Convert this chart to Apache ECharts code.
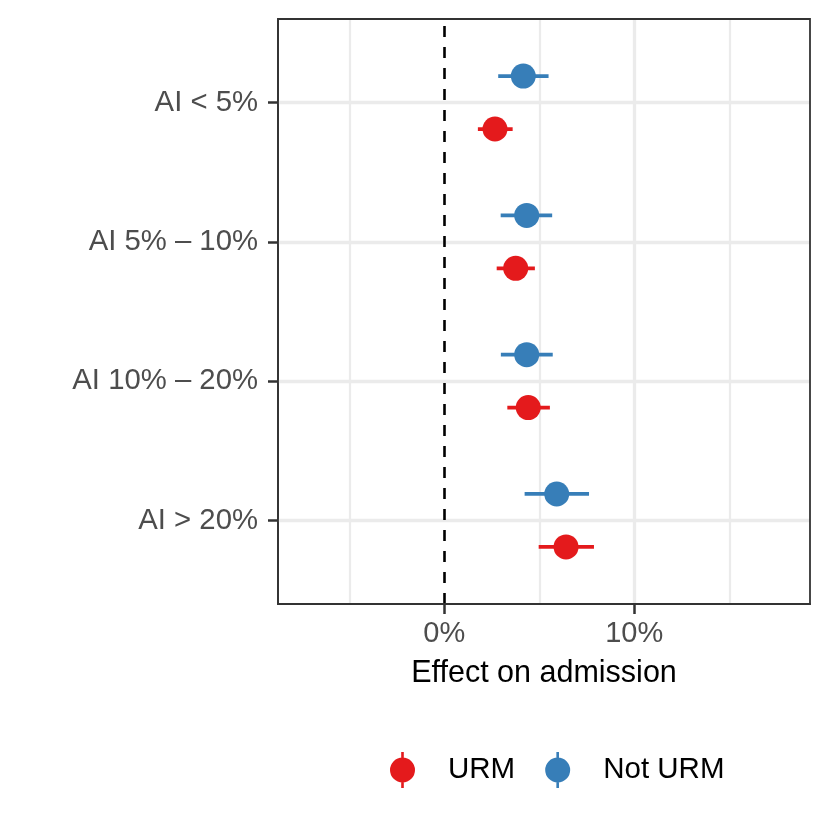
<!DOCTYPE html>
<html>
<head>
<meta charset="utf-8">
<script src="https://cdn.jsdelivr.net/npm/echarts@6/dist/echarts.min.js"></script>
<style>html,body{margin:0;padding:0;background:#fff;}#c{width:830px;height:830px;}</style>
</head>
<body>
<div id="c"></div>
<script>
// Data (percent effect on admission)
const categories = ['AI < 5%', 'AI 5% – 10%', 'AI 10% – 20%', 'AI > 20%'];
const groups = ['URM', 'Not URM'];
const urmEst  = [2.67, 3.76, 4.42, 6.41];
const urmLow  = [1.77, 2.76, 3.32, 4.97];
const urmHigh = [3.60, 4.77, 5.56, 7.88];
const notEst  = [4.16, 4.34, 4.34, 5.92];
const notLow  = [2.84, 2.97, 2.98, 4.23];
const notHigh = [5.49, 5.68, 5.71, 7.62];
const xTicks = [0, 10];

const RED = '#E41A1C', BLUE = '#377EB8';
const FONT = '"Liberation Sans", Arial, Helvetica, sans-serif';
const dodge = 0.19;
const n = categories.length;
const catPos = categories.map((c, i) => n - i);
const yTicks = catPos.slice().sort((a, b) => a - b);
const posToCat = {};
catPos.forEach((p, i) => { posToCat[p] = categories[i]; });

const urmPts = urmEst.map((v, i) => [v, catPos[i] - dodge]);
const notPts = notEst.map((v, i) => [v, catPos[i] + dodge]);
const urmBars = urmLow.map((v, i) => [v, urmHigh[i], catPos[i] - dodge]);
const notBars = notLow.map((v, i) => [v, notHigh[i], catPos[i] + dodge]);

const legendIcon = 'path://M11.2,0 L13.8,0 L13.8,36 L11.2,36 Z M0,18 A12.5,12.5 0 1,1 25,18 A12.5,12.5 0 1,1 0,18 Z';

function barRender(color) {
  return function (params, api) {
    const a = api.coord([api.value(0), api.value(2)]);
    const b = api.coord([api.value(1), api.value(2)]);
    return { type: 'line', shape: { x1: a[0], y1: a[1], x2: b[0], y2: b[1] },
             style: { stroke: color, lineWidth: 3.8 } };
  };
}

const gridLines = [];
[-5, 5, 15].forEach(v => gridLines.push({ xAxis: v, lineStyle: { color: '#EBEBEB', width: 2.2, type: 'solid' } }));
[10].forEach(v => gridLines.push({ xAxis: v, lineStyle: { color: '#EBEBEB', width: 3.3, type: 'solid' } }));
catPos.forEach(p => gridLines.push({ yAxis: p, lineStyle: { color: '#EBEBEB', width: 3.3, type: 'solid' } }));
gridLines.push({ xAxis: 0, lineStyle: { color: '#000', width: 2.6, type: [11, 10] } });

const chart = echarts.init(document.getElementById('c'), null, { renderer: 'canvas' });
chart.setOption({
  animation: false,
  backgroundColor: '#fff',
  textStyle: { fontFamily: FONT },
  grid: { left: 278, right: 20, top: 19, bottom: 226, show: true, borderColor: '#333333', borderWidth: 1.8, backgroundColor: 'transparent', z: 20 },
  xAxis: {
    type: 'value', min: -8.75, max: 19.25,
    name: 'Effect on admission', nameLocation: 'middle', nameGap: 54,
    nameTextStyle: { color: '#000', fontSize: 30.5, fontFamily: FONT },
    axisLine: { show: true, onZero: false, lineStyle: { color: '#333', width: 1.8 } },
    axisTick: { show: true, customValues: xTicks, length: 10, lineStyle: { color: '#333', width: 2.5 } },
    axisLabel: { customValues: xTicks, formatter: v => v + '%', color: '#4D4D4D', fontSize: 29, margin: 15, fontFamily: FONT },
    splitLine: { show: false }
  },
  yAxis: {
    type: 'value', min: 0.4, max: 4.6,
    axisLine: { show: true, onZero: false, lineStyle: { color: '#333', width: 1.8 } },
    axisTick: { show: true, customValues: yTicks, length: 10, lineStyle: { color: '#333', width: 2.5 } },
    axisLabel: { customValues: yTicks, formatter: v => posToCat[Math.round(v)] || '', color: '#4D4D4D', fontSize: 29.3, margin: 20, fontFamily: FONT },
    splitLine: { show: false }
  },
  legend: {
    data: [{ name: 'URM', icon: legendIcon }, { name: 'Not URM', icon: legendIcon }],
    left: 385, top: 747, itemWidth: 25, itemHeight: 36, itemGap: 30,
    textStyle: { color: '#000', fontSize: 29.5, fontFamily: FONT, padding: [0, 0, 0, 28] },
    selectedMode: false
  },
  series: [
    { type: 'line', name: 'grid', data: [], silent: true, z: 1,
      markLine: { silent: true, symbol: 'none', label: { show: false }, z: 1, data: gridLines } },
    { type: 'custom', name: 'URM', data: urmBars, renderItem: barRender(RED), itemStyle: { color: RED }, encode: { x: [0, 1], y: 2 }, z: 8 },
    { type: 'custom', name: 'Not URM', data: notBars, renderItem: barRender(BLUE), itemStyle: { color: BLUE }, encode: { x: [0, 1], y: 2 }, z: 8 },
    { type: 'scatter', name: 'URM', data: urmPts, symbolSize: 25, itemStyle: { color: RED, opacity: 1 }, z: 9 },
    { type: 'scatter', name: 'Not URM', data: notPts, symbolSize: 25, itemStyle: { color: BLUE, opacity: 1 }, z: 9 }
  ]
});
</script>
</body>
</html>
